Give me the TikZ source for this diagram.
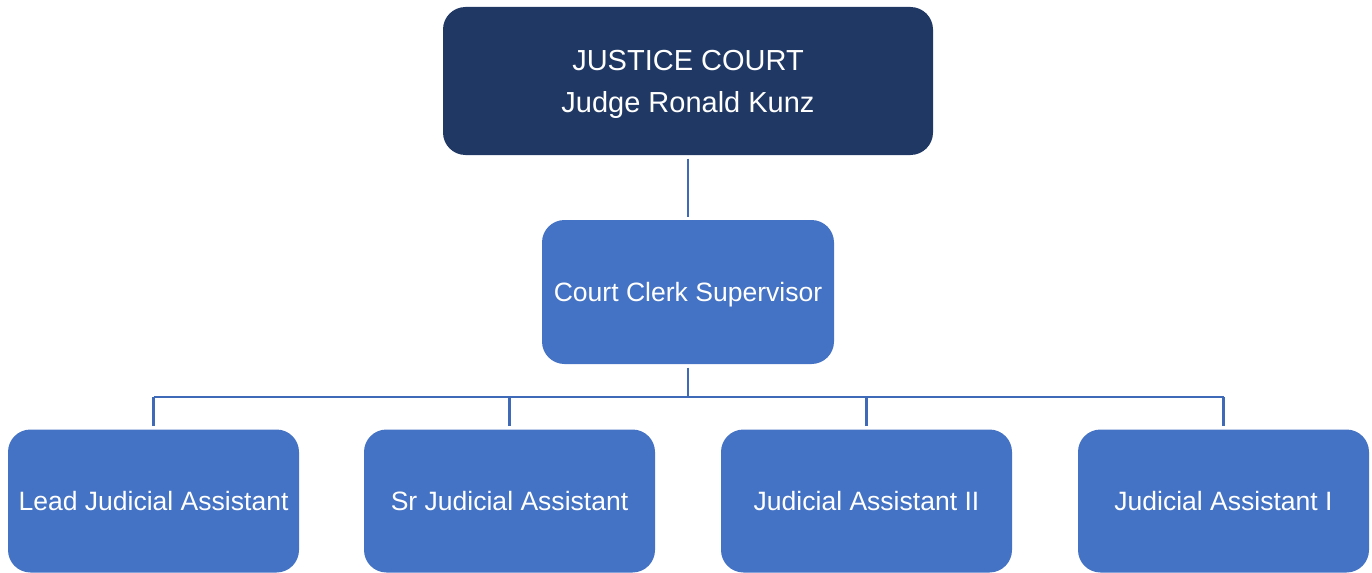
\documentclass[tikz,border=0pt]{standalone}
\usepackage{fontspec}
\setmainfont{Liberation Sans}
\definecolor{courtnavy}{RGB}{32,56,100}
\definecolor{staffblue}{RGB}{68,114,196}
\definecolor{linkblue}{RGB}{63,106,184}
\tikzset{
  headbox/.style={rectangle,rounded corners=0.45cm,fill=courtnavy,text=white,
    minimum width=9.8cm,minimum height=2.96cm,inner sep=0pt,outer sep=0.07cm,
    align=center,text depth=0pt,font=\fontsize{16.5}{23.9}\selectfont},
  staffbox/.style={rectangle,rounded corners=0.45cm,fill=staffblue,text=white,
    minimum width=5.82cm,minimum height=2.86cm,inner sep=0pt,outer sep=0.07cm,
    text depth=0pt,font=\fontsize{15.1}{18}\selectfont},
  link/.style={draw=linkblue,line width=0.045cm}
}
\begin{document}
\begin{tikzpicture}
        \useasboundingbox (0,0) rectangle (27.44,-11.46);
        \node[headbox] (court) at (13.76,-1.62) {JUSTICE COURT\\Judge Ronald Kunz};
        \node[staffbox,minimum width=5.84cm,minimum height=2.88cm] (clerk) at (13.76,-5.84) {Court Clerk Supervisor};
        \node[staffbox] (lead) at ( 3.07,-10.02) {Lead Judicial Assistant};
        \node[staffbox] (sr)   at (10.19,-10.02) {Sr Judicial Assistant};
        \node[staffbox] (ja2)  at (17.33,-10.02) {Judicial Assistant II};
        \node[staffbox] (ja1)  at (24.47,-10.02) {Judicial Assistant I};
        \coordinate (bus) at (13.76,-7.94);

        \draw[link] (court) to (clerk);
        \draw[link] (clerk.south) to (bus);
        \draw[link] (lead.north |- bus) to (ja1.north |- bus);
        \draw[link] (lead.north) to (lead.north |- bus);
        \draw[link] (sr.north)   to (sr.north |- bus);
        \draw[link] (ja2.north)  to (ja2.north |- bus);
        \draw[link] (ja1.north)  to (ja1.north |- bus);
      \end{tikzpicture}
\end{document}
